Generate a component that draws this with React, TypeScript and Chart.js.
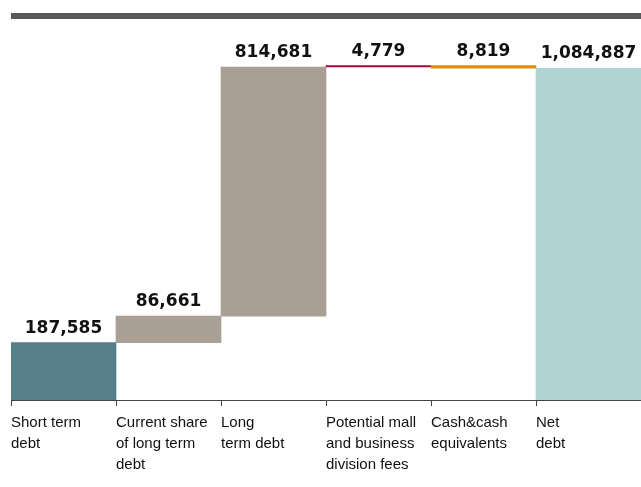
import React, { useEffect, useRef } from 'react';
import { Chart, registerables } from 'chart.js';

Chart.register(...registerables);

// ---- data ----
const categories: string[][] = [
  ['Short term', 'debt'],
  ['Current share', 'of long term', 'debt'],
  ['Long', 'term debt'],
  ['Potential mall', 'and business', 'division fees'],
  ['Cash&cash', 'equivalents'],
  ['Net', 'debt'],
];
const changes: number[] = [187585, 86661, 814681, 4779, -8819, 1084887];
const isTotal: boolean[] = [false, false, false, false, false, true];
const barColors: string[] = ['#567F8A', '#A99F94', '#A99F94', '#A6093D', '#DC8E0C', '#B0D4D4'];
const yMax = 1200000;

function buildRanges(): [number, number][] {
  let running = 0;
  return changes.map((c, i) => {
    if (isTotal[i]) return [0, c] as [number, number];
    const r: [number, number] = [running, running + c];
    running += c;
    return r;
  });
}

const topRulePlugin = {
  id: 'topRule',
  beforeDraw(chart: any) {
    const { ctx, chartArea } = chart;
    ctx.save();
    ctx.fillStyle = '#585858';
    ctx.fillRect(chartArea.left, 13, chart.width - chartArea.left, 6);
    ctx.restore();
  },
};

const valueLabelPlugin = {
  id: 'valueLabels',
  afterDatasetsDraw(chart: any) {
    const { ctx } = chart;
    const meta = chart.getDatasetMeta(0);
    ctx.save();
    ctx.font = 'bold 17px "DejaVu Sans"';
    ctx.fillStyle = '#111111';
    ctx.textAlign = 'center';
    ctx.textBaseline = 'alphabetic';
    meta.data.forEach((bar: any, i: number) => {
      const top = Math.min(bar.y, bar.base);
      const text = Math.abs(changes[i]).toLocaleString('en-US');
      ctx.fillText(text, bar.x, top - 10);
    });
    ctx.restore();
  },
};

export default function App() {
  const ref = useRef<HTMLCanvasElement | null>(null);

  useEffect(() => {
    if (!ref.current) return;
    const chart = new Chart(ref.current, {
      type: 'bar',
      data: {
        labels: categories,
        datasets: [
          {
            data: buildRanges() as any,
            backgroundColor: barColors,
            borderWidth: 0,
            barPercentage: 1,
            categoryPercentage: 1,
          },
        ],
      },
      options: {
        animation: false,
        responsive: false,
        layout: { padding: { top: 33, bottom: 6, left: 11, right: 0 } },
        plugins: {
          legend: { display: false },
          tooltip: { enabled: false },
          title: { display: false },
        },
        scales: {
          x: {
            grid: {
              offset: true,
              drawOnChartArea: false,
              drawTicks: true,
              tickLength: 6,
              color: '#444444',
              lineWidth: 1,
            },
            border: { display: true, color: '#444444', width: 1 },
            ticks: {
              align: 'start',
              labelOffset: -52.5,
              padding: 6,
              maxRotation: 0,
              minRotation: 0,
              autoSkip: false,
              color: '#111111',
              font: { family: '"Liberation Sans", Arial, sans-serif', size: 15, lineHeight: 1.4 },
            },
          },
          y: {
            display: false,
            min: 0,
            max: yMax,
          },
        },
      },
      plugins: [topRulePlugin, valueLabelPlugin],
    });
    return () => chart.destroy();
  }, []);

  return (
    <div style={{ position: 'absolute', left: 0, top: 0, width: 641, height: 487, background: '#ffffff' }}>
      <canvas ref={ref} width={641} height={487} />
    </div>
  );
}
